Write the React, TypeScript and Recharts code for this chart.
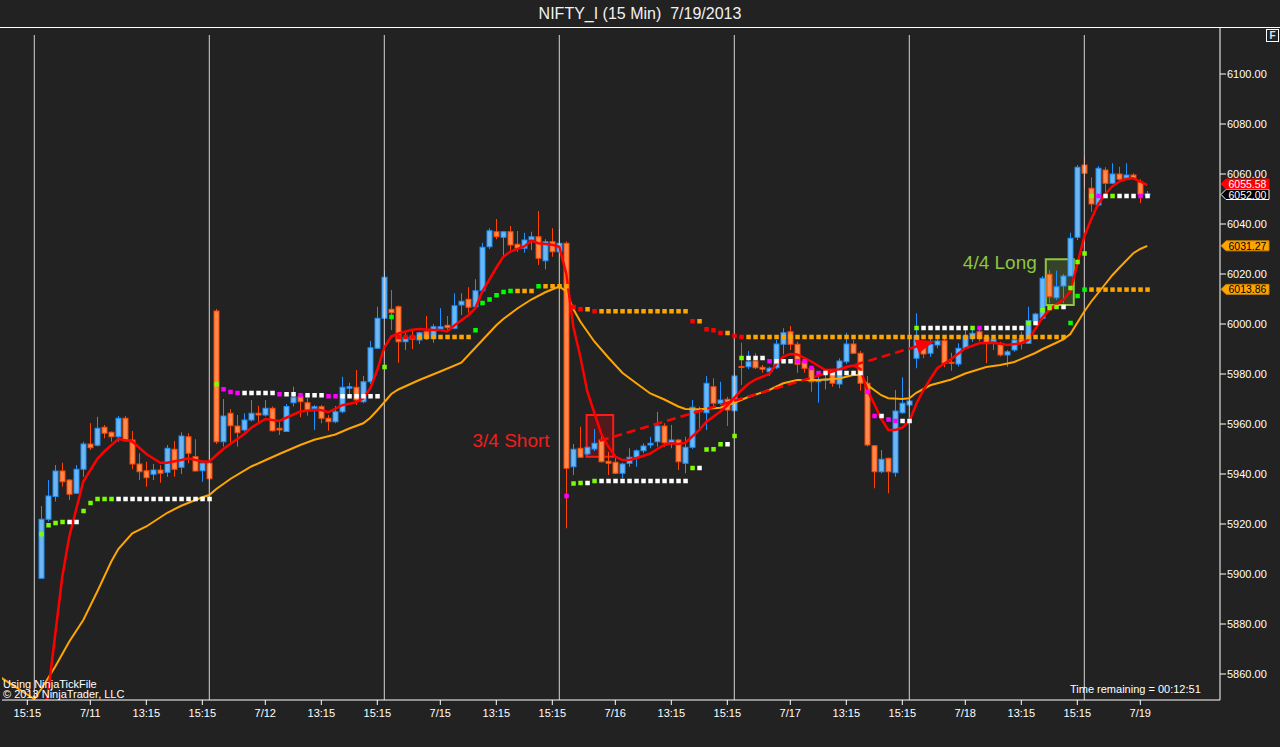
import React from 'react'
import {
  ComposedChart, Bar, Line, Scatter, XAxis, YAxis, ReferenceLine, ReferenceArea,
} from 'recharts'

// NIFTY_I 15 min bars, index 0 = first bar of 7/11
const opens = [
  5898.3, 5921.9, 5931.0, 5941.2, 5937.6, 5932.3, 5941.9, 5952.0, 5951.5, 5958.7,
  5956.7, 5954.9, 5962.3, 5953.6, 5944.0, 5941.3, 5939.9, 5941.6, 5940.7, 5949.9,
  5942.7, 5954.9, 5946.9, 5941.3, 5944.3, 6005.2, 5952.9, 5964.3, 5959.2, 5957.6,
  5961.6, 5964.3, 5963.6, 5966.3, 5958.3, 5957.0, 5968.5, 5970.9, 5968.5, 5966.1,
  5966.9, 5962.3, 5960.9, 5964.9, 5974.3, 5974.7, 5968.9, 5976.9, 5990.3, 6002.3,
  6005.9, 6006.9, 5992.9, 5995.2, 5993.6, 5996.9, 5994.3, 5998.0, 5999.5, 5998.3,
  6007.6, 6009.9, 6006.9, 6013.3, 6030.9, 6036.9, 6034.7, 6036.9, 6031.9, 6030.3,
  6033.6, 6034.9, 6025.3, 6032.9, 6028.9, 6032.3, 5942.9, 5950.3, 5948.0, 5950.0,
  5953.6, 5945.1, 5944.7, 5940.3, 5944.3, 5946.7, 5949.3, 5951.6, 5952.9, 5959.2,
  5952.5, 5953.6, 5944.3, 5950.7, 5965.6, 5964.5, 5974.9, 5968.3, 5969.9, 5965.3,
  5983.0, 5982.9, 5985.2, 5982.7, 5980.9, 5982.5, 5991.9, 5996.9, 5991.9, 5984.9,
  5982.3, 5976.9, 5977.6, 5981.3, 5976.0, 5984.9, 5992.0, 5988.3, 5976.3, 5951.3,
  5940.9, 5946.3, 5940.5, 5964.5, 5967.6, 5986.3, 5991.5, 5988.3, 5991.6, 5993.3,
  5984.7, 5984.0, 5990.3, 5994.3, 5996.9, 5994.7, 5992.9, 5992.3, 5987.6, 5989.6,
  5994.0, 5992.3, 6001.3, 6002.3, 6019.9, 6010.5, 6015.2, 6019.2, 6034.7, 6063.6,
  6054.3, 6047.6, 6061.6, 6056.3, 6060.0, 6058.3, 6059.6, 6056.7, 6051.9,
]
const highs = [
  5927.2, 5937.6, 5943.6, 5944.5, 5938.0, 5943.6, 5952.9, 5960.3, 5962.9, 5959.6,
  5957.0, 5963.2, 5963.2, 5957.2, 5948.3, 5944.9, 5944.0, 5943.6, 5951.6, 5953.2,
  5956.7, 5956.3, 5953.9, 5944.9, 5949.2, 6006.0, 5970.0, 5966.0, 5963.6, 5964.3,
  5969.6, 5967.3, 5969.6, 5967.0, 5961.6, 5968.0, 5974.9, 5971.6, 5970.3, 5967.6,
  5967.6, 5963.6, 5967.2, 5978.9, 5976.5, 5981.6, 5979.2, 5993.2, 6006.9, 6021.3,
  6013.6, 6007.5, 5996.3, 5997.6, 5996.9, 6003.2, 6000.0, 6006.3, 6003.2, 6012.3,
  6012.3, 6014.7, 6017.9, 6032.5, 6038.3, 6042.0, 6037.0, 6039.2, 6037.2, 6036.5,
  6036.9, 6045.2, 6033.9, 6038.3, 6037.9, 6033.0, 5952.0, 5958.9, 5951.0, 5958.0,
  5956.9, 5948.9, 5946.9, 5944.5, 5950.3, 5949.9, 5952.3, 5954.9, 5964.9, 5960.3,
  5959.6, 5954.0, 5954.9, 5969.6, 5966.9, 5979.2, 5978.3, 5976.9, 5970.9, 5980.3,
  5992.5, 5989.2, 5988.3, 5983.6, 5982.9, 5993.6, 5998.3, 5999.2, 5992.9, 5985.9,
  5983.2, 5979.6, 5981.2, 5981.9, 5986.3, 5996.5, 5993.6, 5989.2, 5979.2, 5951.5,
  5949.6, 5946.5, 5973.6, 5978.7, 5973.9, 6004.3, 5993.2, 5994.9, 5995.2, 5995.6,
  5988.5, 5992.3, 5997.6, 5997.6, 5997.6, 5995.6, 5994.3, 5992.9, 5989.6, 5994.9,
  5996.9, 6006.9, 6004.5, 6019.2, 6021.6, 6021.3, 6020.0, 6036.5, 6063.6, 6066.9,
  6058.7, 6063.2, 6062.7, 6064.3, 6062.9, 6064.3, 6060.3, 6057.9, 6053.2,
]
const lows = [
  5898.0, 5921.0, 5929.0, 5935.0, 5929.6, 5932.0, 5938.9, 5949.6, 5951.0, 5954.3,
  5952.9, 5952.9, 5953.0, 5941.9, 5937.6, 5934.9, 5937.6, 5936.5, 5938.9, 5938.9,
  5940.0, 5944.3, 5941.0, 5936.9, 5937.6, 5952.0, 5951.0, 5952.3, 5950.9, 5957.0,
  5961.0, 5960.3, 5963.0, 5957.0, 5955.6, 5957.0, 5967.0, 5962.7, 5963.3, 5957.6,
  5960.3, 5957.3, 5960.3, 5964.3, 5971.6, 5967.6, 5968.3, 5976.0, 5990.0, 6002.0,
  5997.6, 5984.5, 5989.6, 5990.0, 5992.0, 5993.6, 5992.5, 5997.6, 5997.6, 5997.9,
  6003.6, 6004.5, 6006.7, 6013.0, 6030.0, 6033.9, 6026.9, 6029.6, 6028.9, 6028.5,
  6029.6, 6023.6, 6021.9, 6026.9, 6028.0, 5918.3, 5939.6, 5946.5, 5947.5, 5949.2,
  5944.5, 5939.6, 5940.0, 5938.3, 5942.9, 5942.9, 5948.3, 5950.3, 5950.9, 5950.9,
  5950.3, 5941.6, 5940.3, 5950.0, 5958.3, 5957.6, 5967.0, 5967.6, 5959.2, 5965.0,
  5975.6, 5982.0, 5982.0, 5980.5, 5979.2, 5982.0, 5987.9, 5989.6, 5980.5, 5980.5,
  5972.9, 5968.5, 5973.9, 5974.9, 5974.3, 5984.0, 5988.0, 5973.3, 5951.0, 5934.3,
  5940.3, 5932.3, 5938.9, 5964.0, 5967.0, 5982.3, 5986.3, 5986.9, 5990.3, 5982.7,
  5981.3, 5983.0, 5990.0, 5992.9, 5993.0, 5984.3, 5989.6, 5987.0, 5982.9, 5988.9,
  5989.9, 5992.0, 6000.3, 6001.6, 6008.3, 6009.6, 6008.3, 6019.0, 6033.6, 6054.3,
  6044.9, 6047.0, 6052.0, 6056.0, 6057.0, 6058.0, 6058.0, 6048.3, 6051.5,
]
const closes = [
  5921.9, 5931.2, 5941.2, 5936.9, 5931.9, 5941.9, 5952.0, 5950.5, 5958.3, 5956.3,
  5954.9, 5962.3, 5953.3, 5944.0, 5940.9, 5938.5, 5941.6, 5940.3, 5950.3, 5941.9,
  5955.2, 5948.3, 5941.2, 5944.3, 5938.1, 5952.9, 5963.2, 5959.3, 5956.5, 5961.6,
  5964.3, 5963.6, 5966.3, 5957.3, 5957.6, 5967.0, 5970.7, 5968.9, 5965.6, 5966.9,
  5962.3, 5960.9, 5964.9, 5974.7, 5974.9, 5969.6, 5976.9, 5990.5, 6002.3, 6018.7,
  6004.5, 5992.9, 5994.7, 5993.9, 5996.5, 5994.3, 5998.9, 5998.9, 5998.5, 6007.3,
  6009.1, 6006.7, 6013.3, 6030.7, 6037.3, 6034.9, 6036.9, 6031.6, 6030.3, 6033.6,
  6034.9, 6026.3, 6032.9, 6028.9, 6032.3, 5942.3, 5949.9, 5946.7, 5950.7, 5952.3,
  5944.9, 5944.3, 5940.3, 5944.0, 5946.7, 5949.3, 5951.2, 5952.3, 5959.2, 5952.5,
  5953.6, 5944.9, 5950.7, 5966.7, 5964.9, 5976.3, 5968.3, 5969.6, 5965.6, 5979.2,
  5982.6, 5984.9, 5982.5, 5981.9, 5982.3, 5992.0, 5996.5, 5991.9, 5983.9, 5982.3,
  5976.9, 5977.6, 5977.9, 5976.3, 5985.2, 5992.0, 5988.3, 5976.3, 5951.6, 5940.9,
  5945.9, 5940.9, 5965.2, 5968.3, 5969.2, 5995.3, 5988.0, 5991.9, 5993.2, 5984.3,
  5984.5, 5990.3, 5995.2, 5996.3, 5994.3, 5992.3, 5993.9, 5987.6, 5988.9, 5993.6,
  5992.3, 6001.3, 6004.0, 6018.3, 6010.9, 6014.9, 6019.2, 6034.3, 6062.7, 6060.3,
  6048.0, 6062.3, 6056.3, 6060.0, 6057.9, 6059.6, 6058.3, 6051.9, 6052.00,
]

// fast average (red) at these bars: [bar, price]
const redPts: [number, number][] = [
  [0, 5835], [1, 5853], [3, 5899], [4, 5915], [6, 5937], [8, 5946], [9, 5949], [11, 5954],
  [13, 5953], [15, 5948], [17, 5944.5], [18, 5944.5], [20, 5945.6], [21, 5946.3], [23, 5945],
  [24, 5945], [26, 5950], [27, 5952], [29, 5956], [30, 5958.5], [32, 5962], [34, 5961.2],
  [35, 5962.5], [37, 5965], [39, 5965.6], [40, 5965.6], [41, 5964.7], [43, 5967.5], [45, 5968.7],
  [46, 5970.3], [47, 5974.3], [48, 5981.6], [49, 5990.6], [50, 5995], [51, 5996.2], [53, 5997.7],
  [54, 5998], [56, 5997.6], [57, 5997.6], [58, 5997], [59, 5999.4], [61, 6003.5], [62, 6006.3],
  [63, 6013], [65, 6022.5], [66, 6026.9], [67, 6029], [69, 6031], [70, 6033.3], [71, 6032.3],
  [73, 6031.7], [74, 6030.9], [75, 6020], [76, 5999], [77, 5987], [78, 5973], [79, 5964.5],
  [80, 5956], [81, 5951], [82, 5947], [83, 5945.6], [84, 5945.6], [85, 5946.3], [87, 5948.2],
  [88, 5950], [89, 5951.6], [90, 5952.3], [91, 5952], [92, 5952.5], [93, 5955], [94, 5957.6],
  [95, 5960.8], [97, 5965], [98, 5967.5], [100, 5973.5], [101, 5976], [102, 5977.8], [104, 5980],
  [105, 5984], [106, 5987], [107, 5988], [108, 5987.8], [110, 5985], [112, 5981.6], [114, 5981.8],
  [115, 5982.9], [116, 5983.4], [117, 5982], [118, 5973.6], [119, 5968], [120, 5962], [121, 5957.6],
  [122, 5957.6], [123, 5958.5], [124, 5961], [125, 5968], [126, 5973.5], [127, 5978], [128, 5982.3],
  [130, 5986], [132, 5990.3], [134, 5992.3], [136, 5992.5], [138, 5991.6], [140, 5992.3],
  [141, 5993.6], [142, 5998], [143, 6002.5], [144, 6005.6], [145, 6007.8], [146, 6009.6],
  [147, 6013], [148, 6024], [149, 6035], [150, 6042], [151, 6048], [152, 6052], [153, 6055],
  [154, 6057], [155, 6058], [156, 6058.3], [157, 6057], [158, 6055.58],
]

// slow average (orange)
const orangePts: [number, number][] = [
  [-6, 5859], [-1, 5850], [0, 5854], [2, 5863], [4, 5873], [6, 5881.6], [8, 5893], [10, 5905],
  [11, 5910], [13, 5916.3], [15, 5919], [18, 5924.5], [20, 5927.3], [23, 5930.7], [24, 5931.6],
  [25, 5934], [27, 5938], [30, 5943], [32, 5945.5], [34, 5948], [37, 5951.6], [39, 5953.7],
  [42, 5955.8], [44, 5958.2], [46, 5960.3], [47, 5962.5], [48, 5965.5], [49, 5968.7], [50, 5972],
  [51, 5973.8], [54, 5977.6], [57, 5981], [60, 5984.5], [62, 5990.5], [63, 5993.5], [65, 5999.5],
  [66, 6002], [68, 6006.2], [70, 6009.8], [72, 6012.7], [74, 6015], [75, 6013], [76, 6006],
  [77, 6001], [79, 5993], [81, 5986.6], [83, 5980.5], [85, 5976.3], [87, 5972.2], [89, 5969.8],
  [91, 5967], [92, 5966], [94, 5965.9], [97, 5966.5], [99, 5968.5], [101, 5970.8], [104, 5973.6],
  [106, 5976.3], [108, 5977.6], [111, 5977.6], [114, 5978.2], [116, 5979.6], [117, 5979.6],
  [118, 5975.6], [120, 5971.5], [121, 5970.3], [123, 5970], [124, 5970.3], [125, 5972.5],
  [127, 5975.5], [130, 5977.8], [132, 5980.2], [135, 5982.8], [137, 5983.6], [139, 5984.8],
  [142, 5988.4], [143, 5989.9], [145, 5992.5], [146, 5993.8], [147, 5996], [148, 6000.5],
  [149, 6005], [150, 6009], [152, 6016], [153, 6019.5], [154, 6022.5], [156, 6028.3],
  [157, 6030], [158, 6031.27],
]

// stop dots as runs: [from bar, to bar, price, colour code]
const dotsA: [number, number, number, string][] = [
  [0, 0, 5916, 'g'], [1, 1, 5919.6, 'g'], [2, 2, 5920.5, 'g'], [3, 3, 5920.9, 'g'], [4, 5, 5920.9, 'w'],
  [6, 6, 5925.3, 'g'], [7, 7, 5928.5, 'g'], [8, 10, 5930.1, 'g'], [11, 24, 5930.1, 'w'],
  [25, 25, 5976, 'g'], [26, 26, 5974, 'm'], [27, 27, 5972.9, 'm'], [28, 28, 5972.5, 'm'],
  [29, 33, 5972.5, 'w'], [34, 34, 5972, 'm'], [35, 36, 5972, 'w'], [37, 37, 5971.6, 'm'],
  [38, 40, 5971.6, 'w'], [41, 42, 5971.2, 'm'], [43, 48, 5971.2, 'w'], [49, 49, 5982.9, 'g'],
  [75, 75, 5931.3, 'm'], [76, 76, 5936.3, 'g'], [77, 77, 5936.5, 'g'], [78, 78, 5936.5, 'w'],
  [79, 79, 5937.3, 'g'], [80, 92, 5937.3, 'w'], [93, 93, 5942.5, 'g'], [94, 94, 5942.5, 'w'],
  [95, 95, 5949.9, 'g'], [96, 96, 5950, 'g'], [97, 97, 5952, 'g'], [98, 98, 5952, 'w'],
  [99, 99, 5955.3, 'g'], [100, 100, 5986.5, 'g'], [101, 103, 5986.5, 'w'], [104, 104, 5985.2, 'm'],
  [105, 107, 5985.2, 'w'], [108, 109, 5985.2, 'm'], [110, 110, 5982.5, 'm'], [111, 111, 5980.5, 'm'],
  [112, 117, 5980.5, 'w'], [118, 118, 5972.9, 'm'], [119, 119, 5963.3, 'm'], [120, 120, 5963.3, 'w'],
  [121, 121, 5961.9, 'm'], [122, 122, 5961.3, 'm'], [123, 124, 5961.3, 'w'], [125, 125, 5998.5, 'g'],
  [126, 132, 5998.5, 'w'], [133, 133, 5998.5, 'g'], [134, 134, 5998.5, 'm'], [135, 140, 5998.5, 'w'],
  [141, 141, 6000.5, 'g'], [142, 142, 6000.5, 'w'], [143, 143, 6005.6, 'g'], [144, 144, 6006.5, 'g'],
  [145, 145, 6006.9, 'g'], [146, 146, 6006.9, 'w'], [147, 147, 6014.5, 'g'], [148, 148, 6024.9, 'g'],
  [149, 149, 6028.3, 'g'], [150, 150, 6051.3, 'g'], [151, 151, 6051.3, 'm'], [152, 152, 6051.3, 'w'],
  [153, 153, 6051.3, 'g'], [154, 156, 6051.3, 'w'], [157, 157, 6051.3, 'm'], [158, 158, 6051.3, 'w'],
]
const dotsB: [number, number, number, string][] = [
  [50, 50, 6002.9, 'G'], [51, 53, 5994.9, 'r'], [54, 61, 5994.9, 'o'], [62, 62, 5997.6, 'G'],
  [63, 63, 6008.5, 'G'], [64, 64, 6009.9, 'G'], [65, 65, 6011.6, 'G'], [66, 66, 6012.9, 'G'],
  [67, 67, 6013.3, 'G'], [68, 70, 6013.3, 'o'], [71, 71, 6015.2, 'G'], [72, 75, 6015.2, 'o'],
  [76, 76, 6006.9, 'r'], [77, 77, 6006, 'r'], [78, 78, 6006, 'o'], [79, 79, 6005.2, 'r'],
  [80, 92, 6005.2, 'o'], [93, 93, 6001.2, 'r'], [94, 94, 6001.2, 'o'], [95, 95, 5998, 'r'],
  [96, 96, 5997.6, 'r'], [97, 97, 5996.5, 'r'], [98, 98, 5996.5, 'o'], [99, 99, 5995.3, 'r'],
  [100, 100, 5994.9, 'r'], [101, 146, 5994.9, 'o'], [147, 147, 6000.5, 'G'], [148, 148, 6011.3, 'G'],
  [149, 149, 6013.86, 'G'], [150, 158, 6013.86, 'o'],
]

const sessionBreaks = [-1, 24, 49, 74, 99, 124, 149]
const tickIdx = [-2, 7, 15, 23, 32, 40, 48, 57, 65, 73, 82, 90, 98, 107, 115, 123, 132, 140, 148, 157]
const tickText = ['15:15', '7/11', '13:15', '15:15', '7/12', '13:15', '15:15', '7/15', '13:15', '15:15',
  '7/16', '13:15', '15:15', '7/17', '13:15', '15:15', '7/18', '13:15', '15:15', '7/19']
const priceTicks = [5860, 5880, 5900, 5920, 5940, 5960, 5980, 6000, 6020, 6040, 6060, 6080, 6100]

// drawings
const shortBox = { x1: 77.9, x2: 81.7, y1: 5946.9, y2: 5963.6 }
const shortArrow = [{ i: 79.8, v: 5953.3 }, { i: 127.67, v: 5993.2 }]
const longBox = { x1: 143.5, x2: 147.5, y1: 6007.6, y2: 6025.9 }

const X_MIN = -5.614
const X_MAX = 168.386
const Y_MIN = 5849.6
const Y_MAX = 6118.4
const PLOT_W = 1218
const PLOT_H = 672

const BG = '#222222'
const FONT = '"Liberation Sans", Arial, sans-serif'
const DOT_COLORS: Record<string, string> = {
  g: '#7cfc00', w: '#ffffff', m: '#ff00ff', G: '#00ff00', r: '#ff0000', o: '#ffa500',
}

const rows: any[] = []
for (let i = -6; i <= 158; i++) rows.push({ i })
opens.forEach((o, k) => {
  const r = rows[k + 6]
  r.open = o
  r.close = closes[k]
  r.range = [lows[k], highs[k]]
})
redPts.forEach(([i, v]) => { rows[i + 6].red = v })
orangePts.forEach(([i, v]) => { rows[i + 6].orange = v })

const expand = (runs: [number, number, number, string][]) => {
  const out: { i: number; v: number; c: string }[] = []
  runs.forEach(([a, b, v, c]) => { for (let i = a; i <= b; i++) out.push({ i, v, c }) })
  return out
}
const seriesA = expand(dotsA)
const seriesB = expand(dotsB)

const lastRed = redPts[redPts.length - 1][1]
const lastClose = closes[closes.length - 1]
const lastOrange = orangePts[orangePts.length - 1][1]
const lastStop = dotsB[dotsB.length - 1][2]

function Candle(props: any) {
  const { x, y, width, height, payload } = props
  if (!payload || payload.range == null) return <g />
  const [lo, hi] = payload.range
  const top = Math.min(y, y + height)
  const h = Math.abs(height)
  const k = hi > lo ? h / (hi - lo) : PLOT_H / (Y_MAX - Y_MIN)
  const cx = Math.round(x + width / 2) + 0.5
  const yo = top + (hi - payload.open) * k
  const yc = top + (hi - payload.close) * k
  const up = payload.close >= payload.open
  const edge = up ? '#1e90ff' : '#ff4500'
  const fill = up ? '#6cb6f2' : '#ff8a4c'
  const bTop = Math.min(yo, yc)
  const bH = Math.max(Math.abs(yc - yo), 1)
  return (
    <g>
      <line x1={cx} x2={cx} y1={top} y2={top + Math.max(h, 1)} stroke={edge} strokeWidth={1} />
      <rect x={cx - 2.5} y={bTop} width={5} height={bH} fill={fill} stroke={edge} strokeWidth={1} />
    </g>
  )
}

function Square(props: any) {
  const { cx, cy, payload } = props
  return <rect x={cx - 2} y={cy - 2} width={4.5} height={4.5} fill={DOT_COLORS[payload.c]} />
}

function ArrowHead(props: any) {
  const { cx, cy, payload } = props
  if (payload.i !== shortArrow[1].i) return <g />
  const a = shortArrow[0]
  const b = shortArrow[1]
  const dx = (b.i - a.i) * PLOT_W / (X_MAX - X_MIN)
  const dy = (b.v - a.v) * PLOT_H / (Y_MAX - Y_MIN)
  const ang = Math.atan2(-dy, dx) * 180 / Math.PI
  return (
    <polygon
      points="0,0 -19,-7 -19,7"
      fill="#ff0000"
      transform={`translate(${cx},${cy}) rotate(${ang})`}
    />
  )
}

function Flag(props: any) {
  const { viewBox, text, bg, fg, border, dy = 0 } = props
  const x0 = viewBox.x + viewBox.width
  const y0 = viewBox.y + dy
  const pts = `${x0 + 1},${y0} ${x0 + 6},${y0 - 5} ${x0 + 49},${y0 - 5} ${x0 + 49},${y0 + 5} ${x0 + 6},${y0 + 5}`
  return (
    <g>
      <polygon points={pts} fill={bg} stroke={border} strokeWidth={1} />
      <text x={x0 + 8.5} y={y0 + 4} fill={fg} fontSize={10.5} fontFamily={FONT}>{text}</text>
    </g>
  )
}

function BoxText(props: any) {
  const { viewBox, text, color, dx, dy } = props
  return (
    <text x={viewBox.x + dx} y={viewBox.y + dy} fill={color} fontSize={19} fontFamily={FONT}
      textAnchor="end" dominantBaseline="central">{text}</text>
  )
}

export default function App() {
  return (
    <div style={{ position: 'fixed', left: 0, top: 0, width: 1280, height: 747, background: BG, fontFamily: FONT, overflow: 'hidden' }}>
      <style>{'body{margin:0;background:#222222}'}</style>
      <div style={{ position: 'absolute', left: 0, top: 0, width: 1280, height: 27, color: '#f2f2f2', fontSize: 16, lineHeight: '27px', textAlign: 'center', whiteSpace: 'pre' }}>
        {'NIFTY_I (15 Min)  7/19/2013'}
      </div>
      <div style={{ position: 'absolute', left: 0, top: 26.5, width: 1280, height: 1, background: '#ffffff' }} />
      <div style={{ position: 'absolute', left: 1266, top: 29, width: 11, height: 11, border: '1px solid #ffffff', color: '#cfe6ff', fontSize: 10, fontWeight: 'bold', lineHeight: '11px', textAlign: 'center' }}>F</div>

      <div style={{ position: 'absolute', left: 0, top: 28 }}>
        <ComposedChart width={1280} height={719} data={rows} margin={{ top: 0, right: 0, bottom: 0, left: 2 }}>
          <XAxis
            dataKey="i"
            type="number"
            domain={[X_MIN, X_MAX]}
            allowDataOverflow
            ticks={tickIdx}
            interval={0}
            tickFormatter={(v) => tickText[tickIdx.indexOf(v)] ?? ''}
            height={47}
            stroke="#ffffff"
            tickSize={5}
            tickMargin={4}
            tick={{ fill: '#ffffff', fontSize: 11, fontFamily: FONT }}
          />
          <YAxis
            orientation="right"
            type="number"
            domain={[Y_MIN, Y_MAX]}
            allowDataOverflow
            ticks={priceTicks}
            interval={0}
            tickFormatter={(v) => Number(v).toFixed(2)}
            width={60}
            stroke="#ffffff"
            tickSize={6}
            tickMargin={1}
            tick={{ fill: '#ffffff', fontSize: 11, fontFamily: FONT }}
          />
          {sessionBreaks.map((b) => (
            <ReferenceLine key={b} segment={[{ x: b, y: Y_MIN }, { x: b, y: 6115.6 }]} stroke="#d4d4d4" strokeWidth={1} />
          ))}
          <Bar dataKey="range" barSize={5} shape={<Candle />} isAnimationActive={false} />
          <Line dataKey="orange" stroke="#ffa500" strokeWidth={2} dot={false} connectNulls isAnimationActive={false} />
          <Line dataKey="red" stroke="#ff0000" strokeWidth={2.5} dot={false} connectNulls isAnimationActive={false} />
          <Scatter data={seriesA} dataKey="v" shape={<Square />} isAnimationActive={false} />
          <Scatter data={seriesB} dataKey="v" shape={<Square />} isAnimationActive={false} />
          <ReferenceArea
            {...shortBox}
            fill="#ff0000" fillOpacity={0.22} stroke="#ff1a1a" strokeWidth={2}
            label={<BoxText text="3/4 Short" color="#f01e1e" dx={-37} dy={25} />}
          />
          <Scatter
            data={shortArrow}
            dataKey="v"
            fill="#ff0000"
            line={{ stroke: '#ff0000', strokeWidth: 2.5, strokeDasharray: '9 5' }}
            shape={<ArrowHead />}
            isAnimationActive={false}
          />
          <ReferenceArea
            {...longBox}
            fill="#8dc63f" fillOpacity={0.2} stroke="#8dc63f" strokeWidth={2}
            label={<BoxText text="4/4 Long" color="#8dc63f" dx={-9} dy={3} />}
          />
          <ReferenceLine y={lastStop} stroke="none"
            label={<Flag text={lastStop.toFixed(2)} bg="#ffa500" fg="#000000" border="#c77f00" />} />
          <ReferenceLine y={lastOrange} stroke="none"
            label={<Flag text={lastOrange.toFixed(2)} bg="#ffa500" fg="#000000" border="#c77f00" />} />
          <ReferenceLine y={lastClose} stroke="none"
            label={<Flag text={lastClose.toFixed(2)} bg="#000000" fg="#ffffff" border="#ffffff" dy={0.5} />} />
          <ReferenceLine y={lastRed} stroke="none"
            label={<Flag text={lastRed.toFixed(2)} bg="#ff0000" fg="#ffffff" border="#ff0000" dy={-1} />} />
        </ComposedChart>
      </div>

      <div style={{ position: 'absolute', left: 3, top: 679, color: '#ffffff', fontSize: 11, lineHeight: '10px' }}>
        Using NinjaTickFile<br />© 2013 NinjaTrader, LLC
      </div>
      <div style={{ position: 'absolute', left: 1070, top: 683, color: '#ffffff', fontSize: 11, lineHeight: '13px' }}>
        Time remaining = 00:12:51
      </div>
    </div>
  )
}
